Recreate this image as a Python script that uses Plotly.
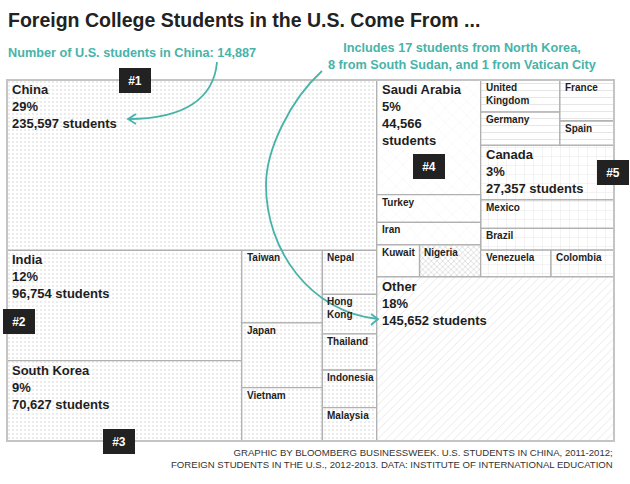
import plotly.graph_objects as go

# ---------------- data ----------------
countries = ["China", "India", "South Korea", "Saudi Arabia", "Canada", "Taiwan", "Japan",
             "Vietnam", "Mexico", "Brazil", "Turkey", "Germany", "United Kingdom", "Nepal",
             "Iran", "France", "Hong Kong", "Indonesia", "Nigeria", "Thailand", "Venezuela",
             "Malaysia", "Colombia", "Kuwait", "Spain", "Other"]
students = [235597, 96754, 70627, 44566, 27357, 21867, 19568,
            16098, 14199, 10868, 10821, 9819, 9467, 8920,
            8744, 8297, 8026, 7670, 7316, 7314, 7022,
            6791, 6295, 5115, 4874, 145652]
regions = ["Asia", "Asia", "Asia", "MidEast", "Americas", "Asia", "Asia",
           "Asia", "Americas", "Americas", "MidEast", "Europe", "Europe", "Asia",
           "MidEast", "Europe", "Asia", "Asia", "Africa", "Asia", "Americas",
           "Asia", "Americas", "MidEast", "Europe", "Other"]
ranked = ["China", "India", "South Korea", "Saudi Arabia", "Canada", "Other"]
badges = ["#1", "#2", "#3", "#4", "#5"]

title_text = "Foreign College Students in the U.S. Come From ..."
note_china = "Number of U.S. students in China: 14,887"
note_other = "Includes 17 students from North Korea,<br>8 from South Sudan, and 1 from Vatican City"
footer = ("GRAPHIC BY BLOOMBERG BUSINESSWEEK. U.S. STUDENTS IN CHINA, 2011-2012;<br>"
          "FOREIGN STUDENTS IN THE U.S., 2012-2013. DATA: INSTITUTE OF INTERNATIONAL EDUCATION")

# nesting of the tiles (slice-and-dice)
tree = ("cols", [
    ("rows", ["China",
              ("cols", [("rows", ["India", "South Korea"]),
                        ("rows", ["Taiwan", "Japan", "Vietnam"]),
                        ("rows", ["Nepal", "Hong Kong", "Thailand", "Indonesia", "Malaysia"])])]),
    ("rows", [("cols", [("rows", ["Saudi Arabia", "Turkey", "Iran", ("cols", ["Kuwait", "Nigeria"])]),
                        ("rows", [("cols", [("rows", ["United Kingdom", "Germany"]),
                                            ("rows", ["France", "Spain"])]),
                                  ("rows", ["Canada", "Mexico", "Brazil",
                                            ("cols", ["Venezuela", "Colombia"])])])]),
              "Other"]),
])

value = dict(zip(countries, students))
region_of = dict(zip(countries, regions))
total = sum(students)


def node_value(n):
    if isinstance(n, str):
        return value[n]
    return sum(node_value(c) for c in n[1])


rects = {}


def lay(n, x0, y0, x1, y1):
    if isinstance(n, str):
        rects[n] = (x0, y0, x1, y1)
        return
    split, kids = n
    vals = [node_value(k) for k in kids]
    tot = sum(vals)
    pos = x0 if split == "cols" else y0
    for k, v in zip(kids, vals):
        if split == "cols":
            w = (x1 - x0) * v / tot
            lay(k, pos, y0, pos + w, y1)
            pos += w
        else:
            h = (y1 - y0) * v / tot
            lay(k, x0, pos, x1, pos + h)
            pos += h


lay(tree, 0.0, 0.0, 1.0, 1.0)

patterns = {
    "Asia": dict(shape=".", size=4, solidity=0.16, fgcolor="#c8c8c8", bgcolor="white"),
    "MidEast": dict(shape="x", size=10, solidity=0.05, fgcolor="#c8c8c8", bgcolor="white"),
    "Europe": dict(shape="-", size=7, solidity=0.09, fgcolor="#b0b0b0", bgcolor="white"),
    "Americas": dict(shape="+", size=9, solidity=0.07, fgcolor="#b8b8b8", bgcolor="white"),
    "Africa": dict(shape="x", size=4, solidity=0.22, fgcolor="#808080", bgcolor="white"),
    "Other": dict(shape="/", size=6, solidity=0.1, fgcolor="#b8b8b8", bgcolor="white"),
}

W, H = 630, 484
L, R, T, B = 7, 16, 80, 43
PW, PH = W - L - R, H - T - B


def px(x):
    return (x - L) / PW


def py(y):
    return (H - B - y) / PH


fig = go.Figure()
for c in countries:
    x0, y0, x1, y1 = rects[c]
    fig.add_trace(go.Scatter(
        x=[x0, x1, x1, x0, x0], y=[y0, y0, y1, y1, y0],
        mode="lines", fill="toself", fillcolor="white",
        fillpattern=patterns[region_of[c]],
        line=dict(color="#b0b0b0", width=1.3),
        hoverinfo="skip", showlegend=False))

labels = {"United Kingdom": "United<br>Kingdom", "Hong Kong": "Hong<br>Kong"}
annotations = []
for c in countries:
    x0, y0, x1, y1 = rects[c]
    if c in ranked:
        pct = round(100 * value[c] / total)
        num = f"{value[c]:,}"
        sep = "<br>" if c == "Saudi Arabia" else " "
        txt = f"{c}<br>{pct}%<br>{num}{sep}students"
        size = 13
    else:
        txt = labels.get(c, c)
        size = 10
    annotations.append(dict(
        x=x0 + 4 / PW, y=y0 + 1 / PH, xref="x", yref="y",
        text=txt, showarrow=False, xanchor="left", yanchor="top", align="left",
        font=dict(family="Liberation Sans", size=size, color="#1e1e1e", weight="bold"),
        borderpad=0))

# rank badges
badge_pos = [(134.5, 81), (19, 321), (119, 441.5), (429, 166.5), (612.5, 172.5)]
for b, (bx, by) in zip(badges, badge_pos):
    annotations.append(dict(
        x=px(bx), y=py(by), xref="paper", yref="paper", text=f"<b>{b}</b>",
        showarrow=False, xanchor="center", yanchor="middle",
        font=dict(family="Liberation Sans", size=12, color="white"),
        bgcolor="#222222", bordercolor="#222222", borderwidth=1, borderpad=4,
        width=22, height=15))

teal = "#48b3a8"
annotations += [
    dict(x=px(6), y=py(20), xref="paper", yref="paper", text=f"<b>{title_text}</b>",
         showarrow=False, xanchor="left", yanchor="middle",
         font=dict(family="Liberation Sans", size=19.5, color="#222222")),
    dict(x=px(6), y=py(53), xref="paper", yref="paper", text=note_china,
         showarrow=False, xanchor="left", yanchor="middle",
         font=dict(family="Liberation Sans", size=12.7, color=teal, weight="bold")),
    dict(x=px(462), y=py(57), xref="paper", yref="paper", text=note_other,
         showarrow=False, xanchor="center", yanchor="middle", align="center",
         font=dict(family="Liberation Sans", size=12.7, color=teal, weight="bold")),
    dict(x=px(615), y=py(458), xref="paper", yref="paper", text=footer,
         showarrow=False, xanchor="right", yanchor="middle", align="right",
         font=dict(family="Liberation Sans", size=9.6, color="#333333")),
]


def pt(x, y):
    return f"{px(x):.5f},{py(y):.5f}"


shapes = [
    dict(type="rect", xref="paper", yref="paper", x0=0, y0=0, x1=1, y1=1,
         line=dict(color="#c4c4c4", width=2)),
    dict(type="path", xref="paper", yref="paper",
         path=f"M{pt(217, 62)} C{pt(214, 98)} {pt(185, 119)} {pt(128, 119)}",
         line=dict(color=teal, width=1.8)),
    dict(type="path", xref="paper", yref="paper",
         path=f"M{pt(136, 114)} L{pt(128, 119)} L{pt(136, 124)}",
         line=dict(color=teal, width=1.8)),
    dict(type="path", xref="paper", yref="paper",
         path=(f"M{pt(322, 71)} C{pt(290, 100)} {pt(266, 150)} {pt(266, 185)} "
               f"C{pt(266, 250)} {pt(310, 312)} {pt(378, 319)}"),
         line=dict(color=teal, width=1.8)),
    dict(type="path", xref="paper", yref="paper",
         path=f"M{pt(371, 314)} L{pt(378, 319)} L{pt(371, 325)}",
         line=dict(color=teal, width=1.8)),
]

fig.update_layout(
    width=W, height=H, margin=dict(l=L, r=R, t=T, b=B),
    paper_bgcolor="white", plot_bgcolor="white",
    xaxis=dict(range=[0, 1], visible=False, fixedrange=True),
    yaxis=dict(range=[1, 0], visible=False, fixedrange=True),
    annotations=annotations, shapes=shapes, showlegend=False,
)
fig.write_html("out.html", config={"displayModeBar": False},
               post_script="document.body.style.margin='0px';")
